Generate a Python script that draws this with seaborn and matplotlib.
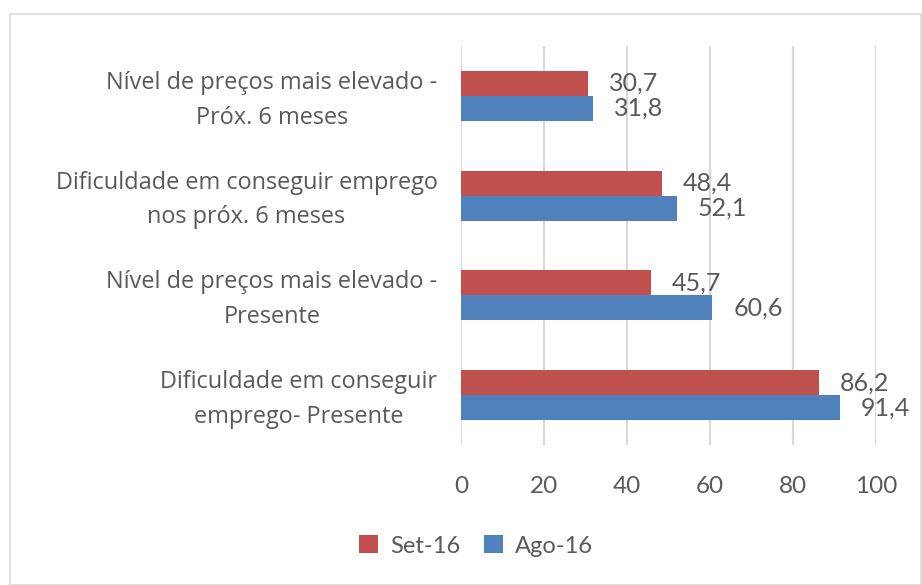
import matplotlib
matplotlib.use("Agg")
import matplotlib.pyplot as plt
from matplotlib.patches import Rectangle, Patch
from matplotlib.transforms import ScaledTranslation
import seaborn as sns
import pandas as pd

categories = [
    "Nível de preços mais elevado -\nPróx. 6 meses",
    "Dificuldade em conseguir emprego\nnos próx. 6 meses",
    "Nível de preços mais elevado -\nPresente",
    "Dificuldade em conseguir\nemprego- Presente",
]
series_names = ["Set-16", "Ago-16"]
set16 = [30.7, 48.4, 45.7, 86.2]
ago16 = [31.8, 52.1, 60.6, 91.4]
x_ticks = [0, 20, 40, 60, 80, 100]

colors = {"Set-16": "#C0504D", "Ago-16": "#4F81BD"}
text_color = "#595959"

sns.set_theme(style="white")
plt.rcParams["font.family"] = ["Lato", "DejaVu Sans"]

df = pd.DataFrame({
    "cat": categories * 2,
    "serie": [series_names[0]] * 4 + [series_names[1]] * 4,
    "val": set16 + ago16,
})

fig = plt.figure(figsize=(9.22, 5.85), dpi=100)
W, H = 922, 585
ax = fig.add_axes([461 / W, 1 - 445 / H, (876 - 461) / W, (445 - 46) / H])

sns.barplot(data=df, y="cat", x="val", hue="serie", hue_order=series_names,
            order=categories, palette=colors, width=0.5, gap=0,
            orient="h", ax=ax, legend=False, saturation=1, linewidth=0)

ax.set_xlim(0, 100)
ax.set_xticks(x_ticks)
ax.set_xticklabels([str(t) for t in x_ticks])
ax.set_ylim(3.5, -0.5)
ax.set_xlabel("")
ax.set_ylabel("")
for s in ax.spines.values():
    s.set_visible(False)
ax.grid(axis="x", color="#D9D9D9", linewidth=1.5)
ax.grid(axis="y", visible=False)
ax.set_axisbelow(True)
ax.tick_params(axis="x", length=0, pad=22, labelsize=17.5, labelcolor=text_color)
ax.tick_params(axis="y", length=0, pad=17, labelcolor=text_color)
shift = ScaledTranslation(0, 4 / 100, fig.dpi_scale_trans)
for lab in ax.get_yticklabels():
    lab.set_multialignment("center")
    lab.set_linespacing(1.6)
    lab.set_fontfamily(["Open Sans", "DejaVu Sans"])
    lab.set_fontsize(16.9)
    lab.set_transform(lab.get_transform() + shift)

for container, name in zip(ax.containers, series_names):
    labels = [f"{v:.1f}".replace(".", ",") for v in container.datavalues]
    ax.bar_label(container, labels=labels, padding=15, fontsize=18, color=text_color)

handles = [Patch(facecolor=colors[n], edgecolor="none", label=n) for n in series_names]
fig.legend(handles=handles, loc="center", bbox_to_anchor=(476 / W, 1 - 546 / H), ncol=2,
           frameon=False, fontsize=17, labelcolor=text_color, handlelength=0.8,
           handleheight=0.8, handletextpad=0.5, columnspacing=1.0)

fig.patches.append(Rectangle((9.5 / W, 0.5 / H), (W - 10.5) / W, (H - 14) / H,
                             transform=fig.transFigure, fill=False,
                             edgecolor="#D9D9D9", linewidth=1.2))

fig.savefig("out.png", dpi=100)
